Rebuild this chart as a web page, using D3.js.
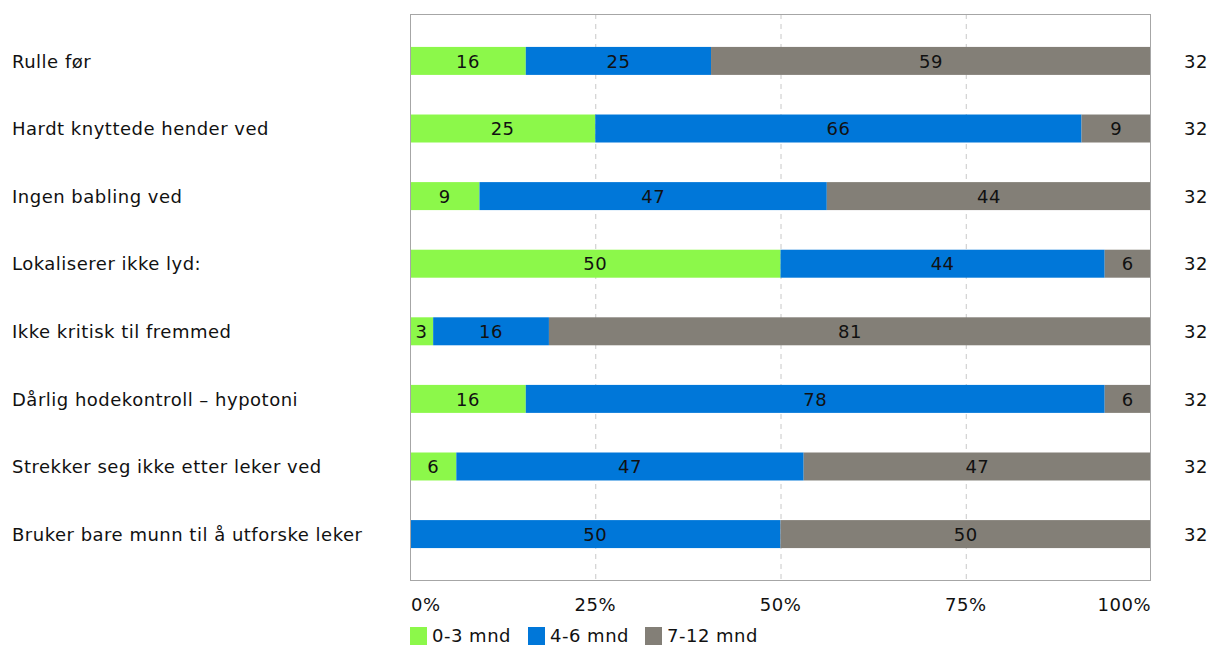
<!DOCTYPE html>
<html><head><meta charset="utf-8">
<script src="https://cdn.jsdelivr.net/npm/d3@7"></script>
<style>body{margin:0;background:#fff}svg{display:block}text{font-family:"DejaVu Sans",Verdana,sans-serif;fill:#111;font-size:18px;letter-spacing:0.5px}</style>
</head><body><svg id="c" width="1212" height="645"></svg>
<script>
const categories = ["Rulle før","Hardt knyttede hender ved","Ingen babling ved","Lokaliserer ikke lyd:","Ikke kritisk til fremmed","Dårlig hodekontroll – hypotoni","Strekker seg ikke etter leker ved","Bruker bare munn til å utforske leker"];
const seriesNames = ["0-3 mnd","4-6 mnd","7-12 mnd"];
const colors = ["#8cf84a","#0077d9","#837f77"];
const s0 = [5,8,3,16,1,5,2,0];
const s1 = [8,21,15,14,5,25,15,16];
const s2 = [19,3,14,2,26,2,15,16];
const totals = [32,32,32,32,32,32,32,32];
const xTicks = [0,0.25,0.5,0.75,1];
const xTickLabels = ["0%","25%","50%","75%","100%"];

const svg = d3.select("#c");
const L=410,R=1151,T=14,B=581;
const x = d3.scaleLinear().domain([0,1]).range([L,R]);
const y = d3.scaleBand().domain(categories).range([T,B]).paddingInner(0.586).paddingOuter(0.487);

// grid
svg.append("g").selectAll("line").data(xTicks.slice(1,-1)).join("line")
  .attr("x1",d=>x(d)+0.5).attr("x2",d=>x(d)+0.5).attr("y1",T).attr("y2",B)
  .attr("stroke","#c8c8c8").attr("stroke-dasharray","5,5");

const series = [s0,s1,s2];
const rows = categories.map((c,i)=>{let acc=0;return series.map((s,k)=>{const v=s[i]/totals[i];const r={c,k,x0:acc,x1:acc+v,v:s[i],t:totals[i]};acc+=v;return r;});});
const g = svg.append("g");
rows.flat().filter(d=>d.v>0).forEach(d=>{
  g.append("rect").attr("x",x(d.x0)).attr("width",x(d.x1)-x(d.x0)).attr("y",y(d.c)).attr("height",y.bandwidth()).attr("fill",colors[d.k]);
  g.append("text").attr("x",(x(d.x0)+x(d.x1))/2).attr("y",y(d.c)+y.bandwidth()/2).attr("dy","0.37em")
   .attr("text-anchor","middle").text(Math.round(d.v/d.t*100));
});

// frame
svg.append("rect").attr("x",L+0.5).attr("y",T+0.5).attr("width",R-L-1).attr("height",B-T-1).attr("fill","none").attr("stroke","#a6a6a6");

// category labels
svg.append("g").selectAll("text").data(categories).join("text")
  .attr("x",12).attr("y",d=>y(d)+y.bandwidth()/2).attr("dy","0.37em").text(d=>d);
// totals
svg.append("g").selectAll("text").data(categories).join("text")
  .attr("x",1196).attr("text-anchor","middle").attr("y",d=>y(d)+y.bandwidth()/2).attr("dy","0.37em").text((d,i)=>totals[i]);

// x ticks
svg.append("g").selectAll("text").data(xTicks).join("text")
  .attr("x",(d,i)=>i===0?x(d)+1:i===xTicks.length-1?x(d):x(d))
  .attr("text-anchor",(d,i)=>i===0?"start":i===xTicks.length-1?"end":"middle")
  .attr("y",611).text((d,i)=>xTickLabels[i]);

// legend
const lx=[410,528,645];
const lg = svg.append("g");
seriesNames.forEach((n,i)=>{
  lg.append("rect").attr("x",lx[i]).attr("y",627).attr("width",17).attr("height",18).attr("fill",colors[i]);
  lg.append("text").attr("x",lx[i]+22).attr("y",642).text(n);
});
</script></body></html>
